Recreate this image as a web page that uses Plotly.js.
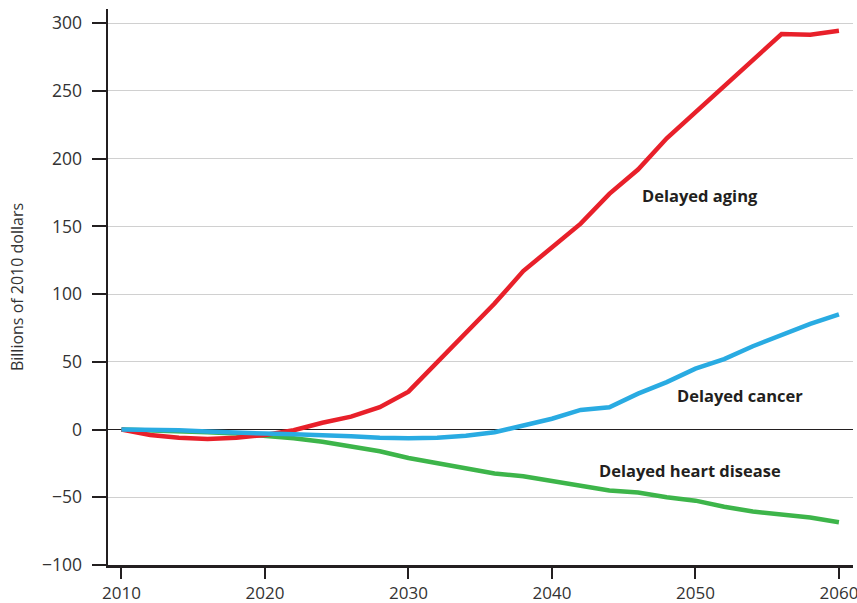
<!DOCTYPE html>
<html>
<head>
<meta charset="utf-8">
<script src="https://cdn.plot.ly/plotly-3.0.1.min.js"></script>
<style>html,body{margin:0;padding:0;background:#fff;}#chart{width:857px;height:603px;}</style>
</head>
<body>
<div id="chart"></div>
<script>
var years = [2010,2012,2014,2016,2018,2020,2022,2024,2026,2028,2030,2032,2034,2036,2038,2040,2042,2044,2046,2048,2050,2052,2054,2056,2058,2060];
var delayedAging = [0,-4,-6,-7,-6,-4,-0.5,5,9.5,16.5,28,50,71,93,117,135,152,174,192,215,234,253,272,292,291.5,294.5];
var delayedCancer = [0,0,-0.5,-1.5,-2.5,-3,-3.5,-4,-5,-6,-6.5,-6,-4.5,-2,3,8,14.5,16.5,26.5,35,45,52,61.5,70,78,85];
var delayedHeart = [0,-0.5,-1,-2,-3,-4.5,-6.5,-9,-12.5,-16,-21,-25,-28.5,-32.5,-34.5,-38,-42,-45,-46.5,-50,-52.5,-57,-60.5,-62.5,-65,-68.5];
var seriesNames = ["Delayed aging","Delayed cancer","Delayed heart disease"];
var labelX = [2050.3, 2053.1, 2049.6];
var labelY = [173, 25.5, -30.5];
var yTicks = [-100,-50,0,50,100,150,200,250,300];
var yTickText = ["\u2212100","\u221250","0","50","100","150","200","250","300"];
var xTicks = [2010,2020,2030,2040,2050,2060];

var colors = ["#e8202a","#29abe2","#3db54a"];
var seriesData = [delayedAging, delayedCancer, delayedHeart];
var order = [2,0,1];
var traces = order.map(function(i){
  return {x: years, y: seriesData[i], type:"scatter", mode:"lines", name: seriesNames[i],
    line:{color:colors[i], width:4.5, shape:"linear"}, hoverinfo:"skip"};
});

var annotations = seriesNames.map(function(n,i){
  return {x: labelX[i], y: labelY[i], xref:"x", yref:"y", text: n, showarrow:false,
    font:{family:"Open Sans, sans-serif", size:16.5, color:"#231f20", weight:700}};
});

var layout = {
  width: 857, height: 603,
  margin: {l:108, r:4, t:9, b:38},
  paper_bgcolor:"#fff", plot_bgcolor:"#fff",
  showlegend:false,
  font:{family:"Open Sans, sans-serif", color:"#333"},
  xaxis:{
    range:[2009.06, 2060.98], tickvals:xTicks, ticktext:xTicks.map(String),
    showgrid:false, zeroline:false,
    showline:true, linecolor:"#231f20", linewidth:2.5,
    ticks:"outside", ticklen:11, tickwidth:2, tickcolor:"#231f20",
    ticklabelstandoff:0, ticklabeloverflow:"allow",
    tickfont:{size:17, color:"#333", family:"Open Sans, sans-serif"}
  },
  yaxis:{
    range:[-100, 310.5], tickvals:yTicks, ticktext:yTickText,
    showgrid:true, gridcolor:"#d0d0d0", gridwidth:1,
    zeroline:true, zerolinecolor:"#231f20", zerolinewidth:1.3,
    showline:true, linecolor:"#231f20", linewidth:2.5,
    ticks:"outside", ticklen:14, tickwidth:2, tickcolor:"#231f20",
    ticklabelstandoff:6,
    tickfont:{size:17.5, color:"#333", family:"Open Sans, sans-serif"},
    title:{text:"Billions of 2010 dollars", standoff:15, font:{size:16, color:"#333", family:"Open Sans, sans-serif"}}
  },
  annotations: annotations
};
Plotly.newPlot("chart", traces, layout, {staticPlot:true, displayModeBar:false});
</script>
</body>
</html>
